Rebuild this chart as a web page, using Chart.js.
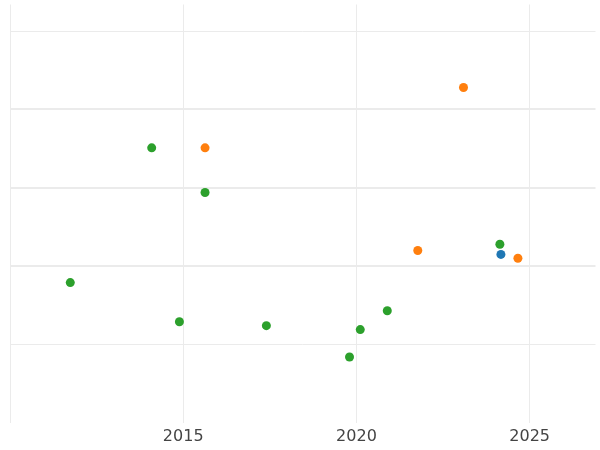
<!DOCTYPE html>
<html>
<head>
<meta charset="utf-8">
<script src="https://cdn.jsdelivr.net/npm/chart.js@4"></script>
<style>
  body { margin: 0; background: #fff; }
  #wrap { width: 600px; height: 450px; }
</style>
</head>
<body>
<div id="wrap"><canvas id="chart"></canvas></div>
<script>
// data
const greenX = [2011.74, 2014.09, 2015.63, 2014.89, 2017.4, 2019.8, 2020.11, 2020.89, 2024.14]
const greenY = [1.79, 3.51, 2.94, 1.29, 1.24, 0.84, 1.19, 1.43, 2.28]
const orangeX = [2015.63, 2023.09, 2021.77, 2024.66]
const orangeY = [3.51, 4.28, 2.2, 2.1]
const blueX = [2024.17]
const blueY = [2.15]
const xTicks = [2010, 2015, 2020, 2025]
const yTicks = [1, 2, 3, 4, 5]

const pts = (xs, ys) => xs.map((x, i) => ({ x: x, y: ys[i] }))

const ctx = document.getElementById('chart').getContext('2d')

const config = {
  type: 'scatter',
  data: {
    datasets: [
      { data: pts(greenX, greenY), backgroundColor: '#2ca02c' },
      { data: pts(orangeX, orangeY), backgroundColor: '#ff7f0e' },
      { data: pts(blueX, blueY), backgroundColor: '#1f77b4' }
    ]
  },
  options: {
    responsive: true,
    maintainAspectRatio: false,
    animation: false,
    layout: { padding: { left: 10, top: 0, right: 0, bottom: 0 } },
    elements: { point: { radius: 4.5, borderWidth: 0, hoverRadius: 4.5 } },
    plugins: { legend: { display: false }, tooltip: { enabled: false } },
    scales: {
      x: {
        type: 'linear',
        min: 2010,
        max: 2026.9,
        afterBuildTicks: s => { s.ticks = xTicks.map(v => ({ value: v })) },
        ticks: {
          callback: v => v === 2010 ? '' : String(v),
          color: '#444',
          font: { family: 'DejaVu Sans', size: 16 },
          padding: 4,
          maxRotation: 0
        },
        grid: { color: '#ebebeb', lineWidth: 1, drawTicks: false },
        border: { display: false }
      },
      y: {
        min: 0,
        max: 5.34,
        afterBuildTicks: s => { s.ticks = yTicks.map(v => ({ value: v })) },
        ticks: { display: false },
        grid: {
          color: '#ebebeb',
          lineWidth: c => (c.tick && (c.tick.value === 1 || c.tick.value === 5)) ? 1 : 2,
          drawTicks: false
        },
        border: { display: false }
      }
    }
  }
}

const myChart = new Chart(ctx, config)
</script>
</body>
</html>
